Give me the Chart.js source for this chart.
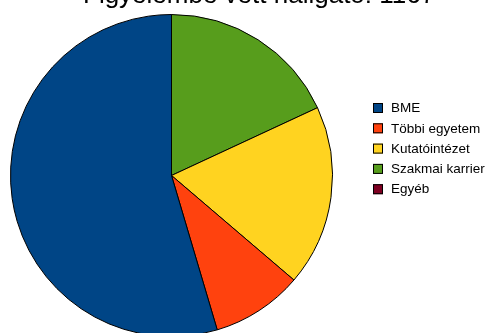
<!DOCTYPE html>
<html>
<head>
<meta charset="utf-8">
<script src="https://cdn.jsdelivr.net/npm/chart.js@4/dist/chart.umd.min.js"></script>
<style>
  html, body { margin: 0; padding: 0; background: #fff; overflow: hidden; width: 488px; height: 333px; }
  #wrap { position: absolute; left: 0; top: -40px; width: 488px; height: 400px; }
</style>
</head>
<body>
<div id="wrap"><canvas id="c" width="488" height="400"></canvas></div>
<script>
// Destination of graduates (legend order)
const categories = ['BME', 'Többi egyetem', 'Kutatóintézet', 'Szakmai karrier', 'Egyéb'];
const counts = [637, 107, 212, 211, 0];
const colors = ['#004586', '#ff420e', '#ffd320', '#579d1c', '#7e0021'];
const titleText = 'Figyelembe vett hallgató: 1167';

// Slices run counter-clockwise from the top in legend order,
// so feed them to the (clockwise) pie in reverse.
const pieLabels = categories.slice().reverse();
const pieValues = counts.slice().reverse();
const pieColors = colors.slice().reverse();

const FONT = '"Liberation Sans", Arial, sans-serif';

const decorations = {
  id: 'decorations',
  afterDraw(chart) {
    const ctx = chart.ctx;
    ctx.save();
    // title
    ctx.fillStyle = '#000';
    ctx.font = '26px ' + FONT;
    ctx.textAlign = 'left';
    ctx.textBaseline = 'alphabetic';
    ctx.fillText(titleText, 83, 42.5);
    // legend
    ctx.font = '13.5px ' + FONT;
    ctx.textBaseline = 'middle';
    const x0 = 373, y0 = 148, step = 20.3, box = 10;
    categories.forEach((name, i) => {
      const cy = y0 + i * step;
      ctx.fillStyle = colors[i];
      ctx.fillRect(x0, cy - box / 2, box, box);
      ctx.strokeStyle = '#000';
      ctx.lineWidth = 1;
      ctx.strokeRect(x0 + 0.5, cy - box / 2 + 0.5, box - 1, box - 1);
      ctx.fillStyle = '#000';
      ctx.fillText(name, 391, cy + 0.5);
    });
    ctx.restore();
  }
};

new Chart(document.getElementById('c'), {
  type: 'pie',
  data: {
    labels: pieLabels,
    datasets: [{
      data: pieValues,
      backgroundColor: pieColors,
      borderColor: '#000',
      borderWidth: 1
    }]
  },
  options: {
    responsive: false,
    animation: false,
    rotation: 0,
    layout: { padding: { left: 10, right: 155, top: 54, bottom: 23 } },
    plugins: {
      legend: { display: false },
      title: { display: false },
      tooltip: { enabled: false }
    }
  },
  plugins: [decorations]
});
</script>
</body>
</html>
